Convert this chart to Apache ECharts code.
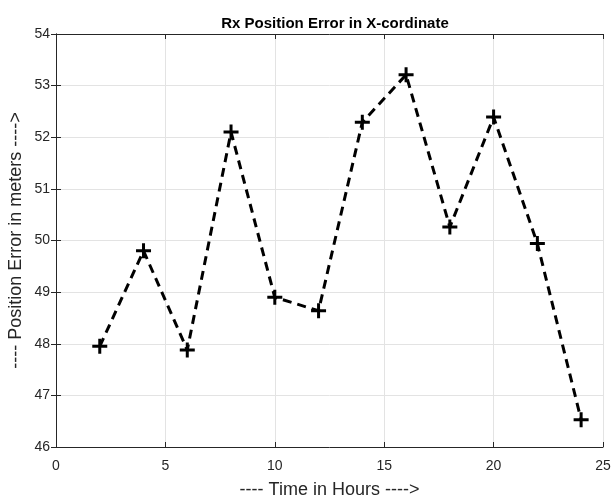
<!DOCTYPE html>
<html>
<head>
<meta charset="utf-8">
<script src="https://cdn.jsdelivr.net/npm/echarts@6/dist/echarts.min.js"></script>
<style>
  html, body { margin: 0; padding: 0; background: #fff; }
  #main { width: 611px; height: 497px; }
</style>
</head>
<body>
<div id="main"></div>
<script>
// hours and measured position error (m)
const hours = [2, 4, 6, 8, 10, 12, 14, 16, 18, 20, 22, 24];
const errorX = [47.95, 49.80, 47.88, 52.10, 48.90, 48.64, 52.29, 53.21, 50.26, 52.39, 49.94, 46.53];

const axisColor = '#262626';
const font = 'Liberation Sans, Arial, sans-serif';
const plus = 'path://M6,0H9V6H15V9H9V15H6V9H0V6H6Z';

const chart = echarts.init(document.getElementById('main'), null, {renderer: 'canvas'});

const boxAxis = {
    axisLine: {show: true, lineStyle: {color: axisColor, width: 1}},
    axisTick: {show: true, inside: true, length: 5, lineStyle: {color: axisColor}},
    axisLabel: {show: false},
    splitLine: {show: false}
};

chart.setOption({
    animation: false,
    title: {
        text: 'Rx Position Error in X-cordinate',
        left: 330, top: 11, textAlign: 'center',
        textStyle: {fontFamily: font, fontSize: 15, fontWeight: 'bold', color: '#000'}
    },
    grid: {left: 56, right: 8, top: 34, bottom: 50, containLabel: false, outerBoundsMode: 'none'},
    xAxis: [{
        type: 'value', min: 0, max: 25, interval: 5,
        name: '---- Time in Hours ---->', nameLocation: 'middle', nameGap: 34,
        nameMoveOverlap: false,
        nameTextStyle: {fontFamily: font, fontSize: 18, color: axisColor},
        axisLine: {show: true, onZero: false, lineStyle: {color: axisColor, width: 1}},
        axisTick: {show: true, inside: true, length: 5, lineStyle: {color: axisColor}},
        axisLabel: {fontFamily: font, fontSize: 14, color: axisColor, margin: 12},
        splitLine: {show: true, lineStyle: {color: '#e3e3e3', width: 1}}
    }, Object.assign({type: 'value', position: 'top', min: 0, max: 25, interval: 5}, boxAxis)],
    yAxis: [{
        type: 'value', min: 46, max: 54, interval: 1,
        name: '---- Position Error in meters ---->', nameLocation: 'middle', nameGap: 31,
        nameMoveOverlap: false,
        nameTextStyle: {fontFamily: font, fontSize: 18, color: axisColor},
        axisLine: {show: true, onZero: false, lineStyle: {color: axisColor, width: 1}},
        axisTick: {show: true, inside: true, length: 5, lineStyle: {color: axisColor}},
        axisLabel: {fontFamily: font, fontSize: 14, color: axisColor, margin: 6},
        splitLine: {show: true, lineStyle: {color: '#e3e3e3', width: 1}}
    }, Object.assign({type: 'value', position: 'right', min: 46, max: 54, interval: 1}, boxAxis)],
    series: [{
        type: 'line',
        data: hours.map((h, i) => [h, errorX[i]]),
        symbol: plus,
        symbolSize: 15,
        showAllSymbol: true,
        itemStyle: {color: '#000'},
        lineStyle: {color: '#000', width: 3, type: [9, 6]}
    }]
});
</script>
</body>
</html>
